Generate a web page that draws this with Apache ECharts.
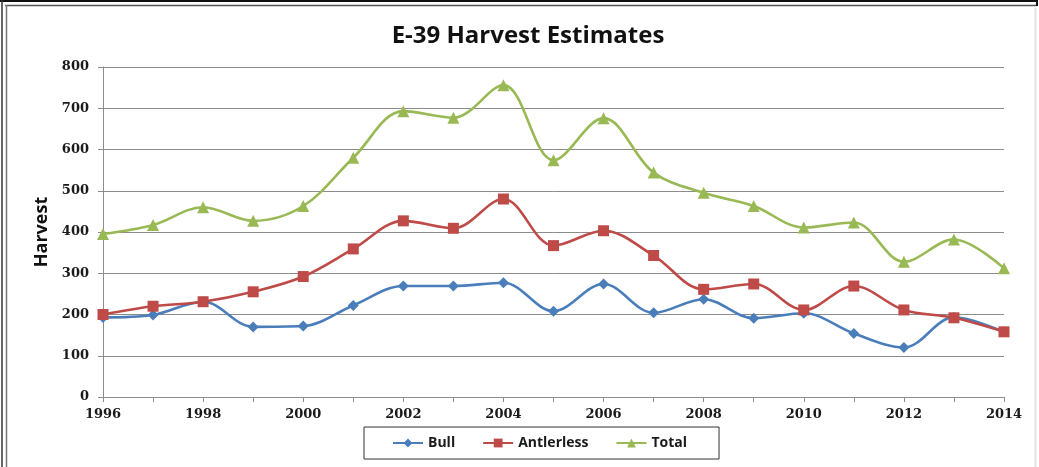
<!DOCTYPE html>
<html>
<head>
<meta charset="utf-8">
<script src="https://cdn.jsdelivr.net/npm/echarts@6/dist/echarts.min.js"></script>
<style>
  html, body { margin: 0; padding: 0; background: #ffffff; }
  #chart { width: 1039px; height: 467px; }
</style>
</head>
<body>
<div id="chart"></div>
<script>
// Harvest years (x axis categories)
const years = ['1996', '1997', '1998', '1999', '2000', '2001', '2002', '2003', '2004', '2005',
               '2006', '2007', '2008', '2009', '2010', '2011', '2012', '2013', '2014'];

// Estimated harvest per year
const bull       = [193, 199, 231, 170, 172, 222, 269, 269, 277, 208, 274, 204, 237, 191, 203, 154, 120, 193, 158];
const antlerless = [200, 220, 231, 255, 292, 359, 427, 409, 480, 367, 403, 343, 261, 274, 211, 269, 211, 192, 158];
const total      = [395, 417, 460, 427, 463, 580, 693, 677, 756, 574, 676, 544, 495, 463, 411, 423, 328, 382, 312];

const COLORS = { bull: '#4a7ebb', antlerless: '#be4b48', total: '#98b954' };
const tickFont = { fontFamily: 'DejaVu Serif', fontWeight: 'bold', fontSize: 13, color: '#1a1a1a' };

const chart = echarts.init(document.getElementById('chart'), null, { renderer: 'canvas' });

function lineSeries(name, data, color, symbol, size) {
  return {
    name: name,
    type: 'line',
    data: data,
    smooth: 0.35,
    symbol: symbol,
    symbolSize: size,
    showSymbol: true,
    lineStyle: { color: color, width: 2.6 },
    itemStyle: { color: color },
    z: 3
  };
}

chart.setOption({
  backgroundColor: '#ffffff',
  animation: false,
  title: {
    text: 'E-39 Harvest Estimates',
    left: 523,
    top: 19,
    textAlign: 'center',
    textStyle: { fontFamily: 'Open Sans', fontWeight: 'bold', fontSize: 24, color: '#111111' }
  },
  grid: { left: 103, right: 35, top: 67, bottom: 70, containLabel: false },
  legend: {
    left: 364,
    top: 427,
    padding: [9, 32, 9, 28],
    itemGap: 27,
    itemWidth: 30,
    itemHeight: 11,
    borderColor: '#333333',
    borderWidth: 1,
    backgroundColor: '#ffffff',
    textStyle: { fontFamily: 'Open Sans', fontWeight: 'bold', fontSize: 14, color: '#1a1a1a' },
    data: ['Bull', 'Antlerless', 'Total']
  },
  xAxis: {
    type: 'category',
    data: years,
    boundaryGap: false,
    axisLine: { lineStyle: { color: '#8c8c8c', width: 1 } },
    axisTick: { show: true, interval: 0, length: 5, lineStyle: { color: '#8c8c8c' } },
    axisLabel: Object.assign({ interval: 1, margin: 11 }, tickFont),
    splitLine: { show: false }
  },
  yAxis: {
    type: 'value',
    min: 0,
    max: 800,
    interval: 100,
    name: 'Harvest',
    nameLocation: 'middle',
    nameGap: 52,
    nameTextStyle: { fontFamily: 'Open Sans', fontWeight: 'bold', fontSize: 18, color: '#111111' },
    axisLine: { show: true, lineStyle: { color: '#8c8c8c', width: 1 } },
    axisTick: { show: true, length: 5, lineStyle: { color: '#8c8c8c' } },
    axisLabel: Object.assign({ margin: 14 }, tickFont),
    splitLine: { show: true, lineStyle: { color: '#8c8c8c', width: 1 } }
  },
  series: [
    lineSeries('Bull', bull, COLORS.bull, 'diamond', 11),
    lineSeries('Antlerless', antlerless, COLORS.antlerless, 'rect', 11),
    lineSeries('Total', total, COLORS.total, 'triangle', 12)
  ],
  graphic: [
    // outer frame: double rule along the top and left edges
    { type: 'line', shape: { x1: 0, y1: 1, x2: 1037, y2: 1 }, style: { stroke: '#111111', lineWidth: 2 }, silent: true },
    { type: 'line', shape: { x1: 5, y1: 5.5, x2: 1037, y2: 5.5 }, style: { stroke: '#555555', lineWidth: 1.5 }, silent: true },
    { type: 'line', shape: { x1: 1037, y1: 0, x2: 1037, y2: 6 }, style: { stroke: '#111111', lineWidth: 2 }, silent: true },
    { type: 'line', shape: { x1: 2, y1: 0, x2: 2, y2: 467 }, style: { stroke: '#333333', lineWidth: 1.5 }, silent: true },
    { type: 'line', shape: { x1: 6.5, y1: 5, x2: 6.5, y2: 467 }, style: { stroke: '#777777', lineWidth: 1.5 }, silent: true },
    { type: 'line', shape: { x1: 1035.5, y1: 8, x2: 1035.5, y2: 467 }, style: { stroke: '#e2e2e2', lineWidth: 2 }, silent: true }
  ]
});
</script>
</body>
</html>
